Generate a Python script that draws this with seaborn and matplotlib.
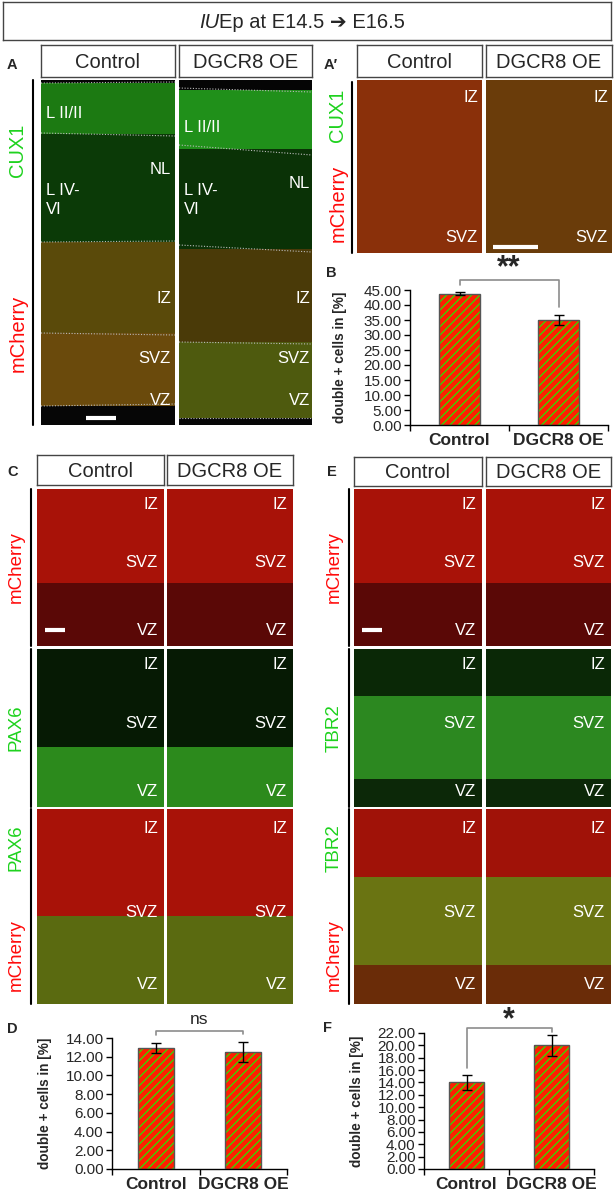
import numpy as np
import pandas as pd
import matplotlib
matplotlib.use("Agg")
import matplotlib.pyplot as plt
from matplotlib.patches import Rectangle
from matplotlib.lines import Line2D
import seaborn as sns

# bar chart data
groups = ["Control", "DGCR8 OE"]
cux1_means = [43.8, 35.0]      # panel B
cux1_err = [0.5, 1.6]
pax6_means = [12.9, 12.5]      # panel D
pax6_err = [0.55, 1.05]
tbr2_means = [14.0, 20.0]      # panel F
tbr2_err = [1.2, 1.7]

sns.set_style("ticks")
plt.rcParams["font.family"] = ["Liberation Sans", "DejaVu Sans"]

W, H = 614, 1190
fig = plt.figure(figsize=(W / 100, H / 100), dpi=100)

RED = "#ff1e00"
GREEN = "#3ed200"
LBL_GREEN = "#1ed21e"
LBL_RED = "#ff0a0a"


def px_axes(x0, y0, x1, y1, **kw):
    return fig.add_axes([x0 / W, 1 - y1 / H, (x1 - x0) / W, (y1 - y0) / H], **kw)


def fx(x):
    return x / W


def fy(y):
    return 1 - y / H


def box(x0, y0, x1, y1, text, size=14.5, lw=1.0):
    ax = px_axes(x0, y0, x1, y1)
    ax.set_xticks([])
    ax.set_yticks([])
    for s in ax.spines.values():
        s.set_color("#444444")
        s.set_linewidth(lw)
    if text:
        ax.text(0.5, 0.45, text, ha="center", va="center", fontsize=size, transform=ax.transAxes)
    return ax


def micro(x0, y0, x1, y1, bands, labels, scalebar=None, dotted=None):
    ax = px_axes(x0, y0, x1, y1)
    w, h = x1 - x0, y1 - y0
    ax.set_xlim(0, w)
    ax.set_ylim(h, 0)
    ax.set_facecolor("black")
    for a, b, c in bands:
        ax.axhspan(a * h, b * h, color=c, lw=0)
    if dotted:
        for yy in dotted:
            ax.plot([0, w], [yy[0] - y0, yy[1] - y0], ls=(0, (1, 1.5)), color="#bbbbbb", lw=0.8)
    for (tx, ty, s, ha) in labels:
        ax.text(tx - x0, ty - y0, s, color="white", fontsize=12, ha=ha, va="center", linespacing=1.3)
    if scalebar:
        sx0, sx1, sy = scalebar
        ax.plot([sx0 - x0, sx1 - x0], [sy - y0, sy - y0], color="white", lw=3, solid_capstyle="butt")
    ax.set_xticks([])
    ax.set_yticks([])
    for s in ax.spines.values():
        s.set_visible(False)
    return ax


def vline(x, y0, y1):
    fig.add_artist(Line2D([fx(x), fx(x)], [fy(y0), fy(y1)], color="black", lw=1.5))


def side_label(x, yc, parts, size):
    # parts: list of (text, color) from bottom to top
    t = None
    if len(parts) == 1:
        fig.text(fx(x), fy(yc), parts[0][0], color=parts[0][1], rotation=90,
                 ha="center", va="center", fontsize=size)
    else:
        for (s, c, yy) in parts:
            fig.text(fx(x), fy(yy), s, color=c, rotation=90, ha="center", va="center", fontsize=size)


def letter(x, y, s):
    fig.text(fx(x), fy(y), s, fontsize=10.5, fontweight="bold", ha="center", va="center")


def bars(x0, y0, x1, y1, means, errs, ymax, step, bracket, mark, mark_y, mark_size, label_x):
    ax = px_axes(x0, y0, x1, y1)
    df = pd.DataFrame({"group": groups, "value": means})
    sns.barplot(data=df, x="group", y="value", color=RED, width=0.41, hatch="////",
                edgecolor=GREEN, linewidth=0, errorbar=None, saturation=1, ax=ax)
    for p in list(ax.patches):
        ax.add_patch(Rectangle(p.get_xy(), p.get_width(), p.get_height(), fill=False,
                               ec="#555555", lw=1, zorder=3))
    ax.errorbar([0, 1], means, yerr=errs, fmt="none", ecolor="black", elinewidth=1,
                capsize=3.5, capthick=1, zorder=4)
    ax.set_xlim(-0.5, 1.5)
    ax.set_ylim(0, ymax)
    ticks = np.arange(0, ymax + 0.001, step)
    ax.set_yticks(ticks)
    ax.set_yticklabels([f"{t:.2f}" for t in ticks], fontsize=11)
    ax.set_xticks([0, 1])
    ax.set_xticklabels(groups, fontsize=12.5, fontweight="bold")
    ax.set_xticks([-0.5, 0.5, 1.5], minor=True)
    ax.tick_params(axis="x", which="major", length=0, pad=6)
    ax.tick_params(axis="x", which="minor", length=4, width=1, color="black", direction="out")
    ax.tick_params(axis="y", length=4, width=1, color="black", direction="out", pad=2)
    ax.set_xlabel("")
    ax.set_ylabel("double + cells in [%]", fontsize=9.8, fontweight="bold")
    ax.yaxis.set_label_coords(label_x, 0.5)
    sns.despine(ax=ax)
    for s in ("left", "bottom"):
        ax.spines[s].set_color("black")
        ax.spines[s].set_linewidth(1)
    ax.set_facecolor("white")
    top, lft, rgt = bracket
    ax.plot([0, 0, 1, 1], [lft, top, top, rgt], color="#8c8c8c", lw=1.2, clip_on=False)
    ax.text(0.5, mark_y, mark, ha="center", va="center", fontsize=mark_size,
            fontweight="bold" if "*" in mark else "normal", clip_on=False)
    return ax


# title
box(3, 2, 611, 40, "")
fig.text(fx(219), fy(22), "IU", fontsize=14.5, style="italic", ha="right", va="center")
fig.text(fx(219), fy(22), "Ep at E14.5 \u2794 E16.5", fontsize=14.5, ha="left", va="center",
         family=["Liberation Sans", "DejaVu Sans"])

# ---- panel A ----
letter(12, 65, "A")
box(41, 45, 175, 77, "Control")
box(179, 45, 312, 77, "DGCR8 OE")
micro(41, 80, 175, 425,
      [(0.0, 0.01, "#050505"), (0.01, 0.157, "#1c7a12"), (0.157, 0.47, "#0b3a07"),
       (0.47, 0.733, "#5a4a0a"), (0.733, 0.945, "#6a4a0c"), (0.945, 1, "#060606")],
      [(46, 113, "L II/II", "left"), (171, 170, "NL", "right"), (46, 200, "L IV-\nVI", "left"),
       (171, 298, "IZ", "right"), (171, 358, "SVZ", "right"), (171, 400, "VZ", "right")],
      scalebar=(86, 116, 418),
      dotted=[(83, 82), (133, 136), (242, 241), (333, 335), (406, 404)])
micro(179, 80, 312, 425,
      [(0.0, 0.03, "#050505"), (0.03, 0.2, "#20901a"), (0.2, 0.49, "#0a3206"),
       (0.49, 0.76, "#4a3a08"), (0.76, 0.98, "#4e5a0e"), (0.98, 1, "#060606")],
      [(184, 127, "L II/II", "left"), (310, 183, "NL", "right"), (184, 200, "L IV-\nVI", "left"),
       (310, 298, "IZ", "right"), (310, 358, "SVZ", "right"), (310, 400, "VZ", "right")],
      dotted=[(88, 92), (145, 155), (245, 252), (342, 344), (418, 418)])
vline(33, 80, 425)
side_label(18, 150, [("CUX1", LBL_GREEN)], 14.5)
side_label(18, 333, [("mCherry", LBL_RED)], 14.5)

# ---- panel A' ----
letter(331, 65, "A\u2032")
box(357, 45, 482, 77, "Control")
box(486, 45, 612, 77, "DGCR8 OE")
micro(357, 80, 482, 253, [(0, 1, "#8a300a")],
      [(478, 97, "IZ", "right"), (478, 238, "SVZ", "right")])
micro(486, 80, 612, 253, [(0, 1, "#6a3c0a")],
      [(608, 97, "IZ", "right"), (608, 238, "SVZ", "right")],
      scalebar=(493, 538, 247))
vline(352, 82, 253)
side_label(338, 115, [("CUX1", LBL_GREEN)], 14.5)
side_label(338, 203, [("mCherry", LBL_RED)], 14.5)

# ---- panel B ----
letter(331, 273, "B")
bars(410, 290, 608, 425, cux1_means, cux1_err, 45, 5,
     (48.3, 46.6, 39.3), "**", 52.3, 22, -0.32)

# ---- panels C and E ----
rows = [(489, 646), (649, 807), (809, 1004)]
mch_red = [(0, 0.6, "#a81208"), (0.6, 1, "#5a0806")]
for (cx0, cx1, hdr_y, lx, lbl_x, col_l, marker, merged) in [
        ((37, 164), (167, 293), (455, 485), 31, 16, "C", "PAX6",
         [[(0, 0.62, "#061a04"), (0.62, 1, "#2c8a1c")],
          [(0, 0.55, "#a81208"), (0.55, 1, "#5a6a10")]]),
        ((354, 482), (486, 611), (457, 486), 349, 334, "E", "TBR2",
         [[(0, 0.3, "#0a2806"), (0.3, 0.82, "#2c8820"), (0.82, 1, "#0c2808")],
          [(0, 0.35, "#a01208"), (0.35, 0.8, "#6a7412"), (0.8, 1, "#6a2c08")]])]:
    box(cx0[0], hdr_y[0], cx0[1], hdr_y[1], "Control")
    box(cx1[0], hdr_y[0], cx1[1], hdr_y[1], "DGCR8 OE")
    band_sets = [mch_red, merged[0], merged[1]]
    for ri, (ry0, ry1) in enumerate(rows):
        rh = ry1 - ry0
        for ci, (px0, px1) in enumerate([cx0, cx1]):
            sb = (px0 + 8, px0 + 28, ry0 + 0.9 * rh) if (ri == 0 and ci == 0) else None
            micro(px0, ry0, px1, ry1, band_sets[ri],
                  [(px1 - 6, ry0 + 0.1 * rh, "IZ", "right"),
                   (px1 - 6, ry0 + 0.47 * rh if ri < 2 else ry0 + 0.53 * rh, "SVZ", "right"),
                   (px1 - 6, ry0 + 0.9 * rh, "VZ", "right")],
                  scalebar=sb)
        vline(lx, ry0, ry1)
    side_label(lbl_x, (rows[0][0] + rows[0][1]) / 2, [("mCherry", LBL_RED)], 13.5)
    side_label(lbl_x, (rows[1][0] + rows[1][1]) / 2, [(marker, LBL_GREEN)], 13.5)
    side_label(lbl_x, 0, [(marker, LBL_GREEN, 848), ("mCherry", LBL_RED, 955)], 13.5)
    letter(13 if col_l == "C" else 332, 472, col_l)

# ---- panel D ----
letter(12, 1029, "D")
bars(112, 1038, 287, 1169, pax6_means, pax6_err, 14, 2,
     (14.75, 14.35, 14.45), "ns", 15.95, 12.5, -0.345)

# ---- panel F ----
letter(328, 1028, "F")
bars(424, 1033, 594, 1169, tbr2_means, tbr2_err, 22, 2,
     (22.8, 16.3, 22.2), "*", 24.0, 22, -0.35)

fig.savefig("out.png", dpi=100)
